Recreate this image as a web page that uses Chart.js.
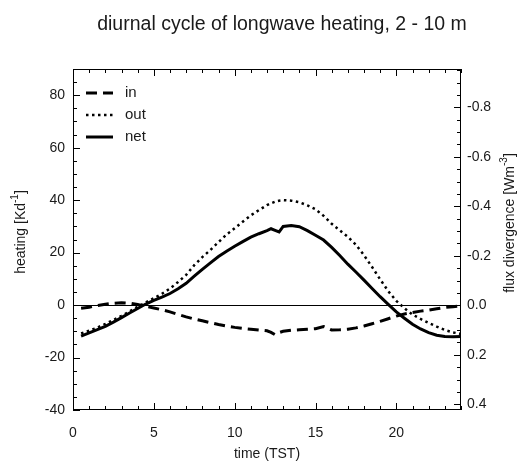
<!DOCTYPE html>
<html>
<head>
<meta charset="utf-8">
<script src="https://cdn.jsdelivr.net/npm/chart.js@4.4.1/dist/chart.umd.min.js"></script>
<style>
    body { margin: 0; background: #fff; }
    canvas { display: block; }
</style>
</head>
<body>
<canvas id="chart" width="520" height="466"></canvas>
<script>
// hour of day (true solar time)
const hours = [0.5, 1, 1.5, 2, 2.5, 3, 3.5, 4, 4.5, 5, 5.5, 6, 6.5, 7, 7.5, 8, 8.5, 9, 9.5, 10, 10.5, 11, 11.5, 12,
    12.25, 12.5, 12.75, 13, 13.5, 14, 14.5, 15, 15.5, 16, 16.5, 17, 17.5, 18, 18.5, 19, 19.5, 20, 20.5, 21,
    21.5, 22, 22.5, 23, 23.5, 24];

// heating rates, K/day
const lwIn = [-1.2, -0.8, -0.2, 0.3, 0.7, 0.9, 0.7, 0.2, -0.5, -1.1, -1.8, -2.6, -3.6, -4.5, -5.3, -6.0, -6.7, -7.4,
    -8.0, -8.5, -8.9, -9.2, -9.5, -9.8, -10.4, -11.3, -10.5, -10.0, -9.6, -9.4, -9.2, -9.0, -8.2, -9.5, -9.4,
    -9.2, -8.7, -8.0, -7.1, -6.2, -5.2, -4.2, -3.4, -2.8, -2.3, -1.9, -1.4, -0.9, -0.6, -0.3];
const lwOut = [-10.8, -9.8, -8.6, -7.2, -5.7, -4.1, -2.4, -0.6, 1.0, 2.6, 4.3, 6.3, 8.8, 11.5, 15.2, 18.3, 21.0,
    24.0, 26.9, 29.3, 31.8, 34.2, 36.2, 38.1, 38.8, 39.4, 39.8, 40.0, 39.8, 39.2, 38.0, 36.5, 34.0, 31.0, 28.5,
    26.0, 23.0, 19.0, 14.5, 9.8, 5.3, 1.6, -1.2, -3.6, -5.3, -6.8, -8.2, -9.5, -10.4, -11.0];
const lwNet = [-11.8, -10.6, -9.4, -8.1, -6.5, -4.8, -3.0, -1.3, 0.4, 1.8, 3.0, 4.4, 6.2, 8.3, 11.0, 13.6, 16.1,
    18.5, 20.5, 22.4, 24.2, 25.9, 27.2, 28.4, 29.1, 28.5, 27.9, 30.0, 30.3, 29.9, 28.4, 26.6, 24.8, 22.0, 18.9,
    15.6, 12.6, 9.5, 6.3, 3.2, 0.3, -2.6, -5.0, -7.3, -9.1, -10.5, -11.5, -12.0, -12.1, -12.0];

const timeTicks = [0, 5, 10, 15, 20];
const heatTicks = [-40, -20, 0, 20, 40, 60, 80];
const fluxTicks = [0.4, 0.2, 0.0, -0.2, -0.4, -0.6, -0.8];

const textColor = '#1a1a1a';
const family = '"Liberation Sans", Arial, Helvetica, sans-serif';

function toPoints(values) {
    return hours.map((h, i) => ({ x: h, y: values[i] }));
}

function range(from, to, step) {
    const out = [];
    for (let v = from; v <= to + step / 1000; v += step) out.push(v);
    return out;
}

// text with a raised exponent, rotated about its centre
function drawUnitText(ctx, cx, cy, angle, before, sup, after, size) {
    ctx.save();
    ctx.translate(cx, cy);
    ctx.rotate(angle);
    ctx.fillStyle = textColor;
    ctx.textBaseline = 'middle';
    ctx.textAlign = 'left';
    const big = size + 'px ' + family;
    const small = Math.round(size * 0.7) + 'px ' + family;
    ctx.font = big;
    const w1 = ctx.measureText(before).width;
    const w3 = ctx.measureText(after).width;
    ctx.font = small;
    const w2 = ctx.measureText(sup).width;
    let x = -(w1 + w2 + w3) / 2;
    ctx.font = big;
    ctx.fillText(before, x, 0);
    x += w1;
    ctx.font = small;
    ctx.fillText(sup, x, -size * 0.4);
    x += w2;
    ctx.font = big;
    ctx.fillText(after, x, 0);
    ctx.restore();
}

const framePlugin = {
    id: 'frame',
    beforeDatasetsDraw(chart) {
        const { ctx, chartArea: a, scales } = chart;
        const y0 = Math.round(scales.y.getPixelForValue(0)) + 0.5;
        ctx.save();
        ctx.strokeStyle = '#000';
        ctx.lineWidth = 1;
        ctx.beginPath();
        ctx.moveTo(a.left, y0);
        ctx.lineTo(a.right, y0);
        ctx.stroke();
        ctx.restore();
    },
    afterDatasetsDraw(chart) {
        const { ctx, chartArea: a, scales } = chart;
        ctx.save();
        ctx.strokeStyle = '#000';
        ctx.lineWidth = 1;
        ctx.strokeRect(a.left + 0.5, a.top + 0.5, a.right - a.left - 1, a.bottom - a.top - 1);

        ctx.beginPath();
        // time axis, bottom and top
        range(0, 24, 1).forEach(v => {
            const len = v % 5 === 0 ? 7 : 4;
            const x = Math.round(scales.x.getPixelForValue(v)) + 0.5;
            ctx.moveTo(x, a.bottom);
            ctx.lineTo(x, a.bottom - len);
            ctx.moveTo(x, a.top);
            ctx.lineTo(x, a.top + len);
        });
        // heating axis
        range(-40, 90, 5).forEach(v => {
            const len = v % 20 === 0 ? 7 : 4;
            const y = Math.round(scales.y.getPixelForValue(v)) + 0.5;
            ctx.moveTo(a.left, y);
            ctx.lineTo(a.left + len, y);
        });
        // flux divergence axis
        range(-0.95, 0.4, 0.05).forEach(v => {
            const k = Math.round(v * 20);
            const len = k % 4 === 0 ? 7 : 4;
            const y = Math.round(scales.y2.getPixelForValue(k / 20)) + 0.5;
            ctx.moveTo(a.right, y);
            ctx.lineTo(a.right - len, y);
        });
        ctx.stroke();

        // legend
        ctx.font = '15px ' + family;
        ctx.textBaseline = 'middle';
        ctx.fillStyle = textColor;
        const rows = [93, 115, 137];
        chart.data.datasets.forEach((ds, i) => {
            const y = rows[i];
            ctx.save();
            ctx.lineWidth = ds.borderWidth;
            ctx.setLineDash(ds.borderDash || []);
            ctx.beginPath();
            ctx.moveTo(86, y);
            ctx.lineTo(113, y);
            ctx.stroke();
            ctx.restore();
            ctx.fillText(ds.label, 125, y);
        });

        // titles
        ctx.textAlign = 'center';
        ctx.font = '19.5px ' + family;
        ctx.fillText('diurnal cycle of longwave heating, 2 - 10 m', 282, 25);
        ctx.font = '14px ' + family;
        ctx.fillText('time (TST)', (a.left + a.right) / 2, 454);
        ctx.restore();

        drawUnitText(ctx, 21, 232, -Math.PI / 2, 'heating [Kd', '-1', ']', 14);
        drawUnitText(ctx, 510, 223, -Math.PI / 2, 'flux divergence [Wm', '-3', ']', 14);
    }
};

const tickFont = { family: family, size: 14 };

window.onload = () => {
    new Chart(document.getElementById('chart'), {
        type: 'line',
        data: {
            datasets: [
                { label: 'in', data: toPoints(lwIn), borderColor: '#000', borderWidth: 3, borderDash: [11, 6] },
                { label: 'out', data: toPoints(lwOut), borderColor: '#000', borderWidth: 2.5, borderDash: [2.5, 3.5] },
                { label: 'net', data: toPoints(lwNet), borderColor: '#000', borderWidth: 3 }
            ]
        },
        options: {
            responsive: false,
            animation: false,
            layout: { padding: { top: 69, left: 0, right: 0, bottom: 0 } },
            elements: { point: { radius: 0 }, line: { tension: 0 } },
            plugins: {
                legend: { display: false },
                tooltip: { enabled: false },
                title: { display: false }
            },
            scales: {
                x: {
                    type: 'linear',
                    min: 0,
                    max: 24,
                    grid: { display: false, drawTicks: false },
                    border: { display: false },
                    ticks: { font: tickFont, color: textColor, padding: 15, autoSkip: false, maxRotation: 0 },
                    afterBuildTicks: s => { s.ticks = timeTicks.map(v => ({ value: v })); },
                    afterFit: s => { s.height = 56; }
                },
                y: {
                    position: 'left',
                    min: -40,
                    max: 90,
                    grid: { display: false, drawTicks: false },
                    border: { display: false },
                    ticks: { font: tickFont, color: textColor, padding: 8, autoSkip: false },
                    afterBuildTicks: s => { s.ticks = heatTicks.map(v => ({ value: v })); },
                    afterFit: s => { s.width = 73; }
                },
                y2: {
                    position: 'right',
                    reverse: true,
                    min: -0.955,
                    max: 0.423,
                    grid: { display: false, drawTicks: false },
                    border: { display: false },
                    ticks: {
                        font: tickFont,
                        color: textColor,
                        padding: 6,
                        autoSkip: false,
                        callback: v => (Math.abs(v) < 1e-9 ? 0 : v).toFixed(1)
                    },
                    afterBuildTicks: s => { s.ticks = fluxTicks.map(v => ({ value: v })); },
                    afterFit: s => { s.width = 59; }
                }
            }
        },
        plugins: [framePlugin]
    });
};
</script>
</body>
</html>
